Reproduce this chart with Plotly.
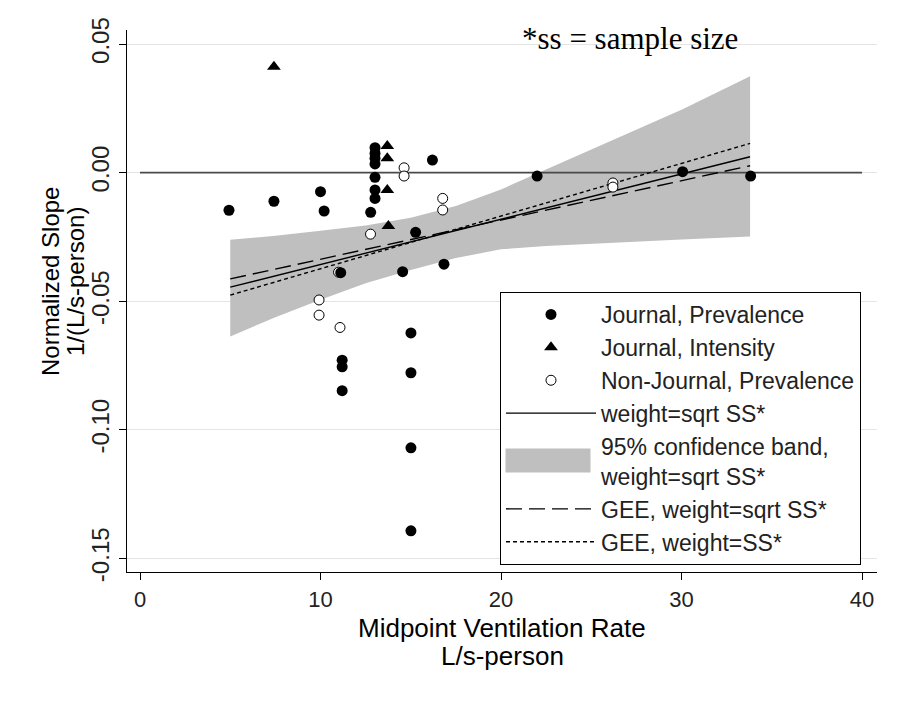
import plotly.graph_objects as go

# ---------------- data ----------------
# Journal, Prevalence (filled circles)
jp_x = [4.93, 7.42, 10.0, 10.2, 12.78, 13.02, 13.02, 13.02, 13.02, 13.02, 13.02, 13.02,
        16.2, 15.27, 11.12, 14.55, 16.84, 15.01, 11.2, 11.2, 15.01, 11.2, 15.01, 15.01,
        22.0, 30.06, 33.83]
jp_y = [-0.0146, -0.0111, -0.0074, -0.0149, -0.0154, 0.0097, 0.0075, 0.0056, 0.0034,
        -0.0018, -0.0067, -0.0100, 0.0049, -0.0232, -0.0389, -0.0385, -0.0356, -0.0623,
        -0.0729, -0.0755, -0.0778, -0.0848, -0.1070, -0.1393, -0.0013, 0.0004, -0.0013]

# Journal, Intensity (filled triangles)
ji_x = [7.42, 13.7, 13.7, 13.7, 13.76]
ji_y = [0.0412, 0.0104, 0.0056, -0.0067, -0.0207]

# Non-Journal, Prevalence (hollow circles)
nj_x = [14.63, 14.63, 16.77, 16.77, 12.77, 9.92, 9.92, 11.08, 26.2, 26.2, 11.0]
nj_y = [0.0019, -0.0013, -0.0100, -0.0145, -0.0239, -0.0495, -0.0554, -0.0602,
        -0.0040, -0.0056, -0.0387]

# fitted lines
fit_x = [5.0, 33.8]
wls_sqrt_y = [-0.0445, 0.0062]
gee_sqrt_y = [-0.0413, 0.0027]
gee_ss_y = [-0.0476, 0.0114]

# 95% confidence band
band_x = [5.0, 7.5, 10.0, 12.5, 15.0, 17.5, 20.0, 22.5, 25.0, 27.5, 30.0, 33.8]
band_hi = [-0.0261, -0.0245, -0.0226, -0.0205, -0.0175, -0.0130, -0.0065, 0.0012,
           0.0090, 0.0165, 0.0245, 0.0375]
band_lo = [-0.0637, -0.0562, -0.0494, -0.0430, -0.0378, -0.0332, -0.0298, -0.0285,
           -0.0277, -0.0268, -0.0260, -0.0248]

# reference line
ref_x = [0, 40]
ref_y = [0, 0]

x_ticks = [0, 10, 20, 30, 40]
y_ticks = [0.05, 0.0, -0.05, -0.10, -0.15]
y_ticklabels = ["0.05", "0.00", "-0.05", "-0.10", "-0.15"]

x_title = ["Midpoint Ventilation Rate", "L/s-person"]
y_title = ["Normalized Slope", "1/(L/s-person)"]
note = "*ss = sample size"

FONT = "Liberation Sans, Arial, sans-serif"
BAND = "#bfbfbf"

fig = go.Figure()

fig.add_trace(go.Scatter(
    x=band_x + band_x[::-1], y=band_hi + band_lo[::-1],
    fill="toself", fillcolor=BAND, line=dict(width=0, color=BAND),
    mode="lines", showlegend=False, hoverinfo="skip"))
# legend entry for the band (swatch drawn as a grey box over the entry)
fig.add_trace(go.Scatter(
    x=[None], y=[None], mode="lines", line=dict(color="rgba(0,0,0,0)", width=1),
    name="95% confidence band,<br>weight=sqrt SS*", legendrank=5))

fig.add_trace(go.Scatter(
    x=ref_x, y=ref_y, mode="lines", line=dict(color="#4a4a4a", width=1.8),
    showlegend=False, hoverinfo="skip"))

fig.add_trace(go.Scatter(
    x=fit_x, y=wls_sqrt_y, mode="lines", line=dict(color="black", width=1.4),
    name="weight=sqrt SS*", legendrank=4))
fig.add_trace(go.Scatter(
    x=fit_x, y=gee_sqrt_y, mode="lines",
    line=dict(color="black", width=1.4, dash="16px,7px"),
    name="GEE, weight=sqrt SS*", legendrank=6))
fig.add_trace(go.Scatter(
    x=fit_x, y=gee_ss_y, mode="lines",
    line=dict(color="black", width=1.4, dash="4px,3px"),
    name="GEE, weight=SS*", legendrank=7))

fig.add_trace(go.Scatter(
    x=nj_x, y=nj_y, mode="markers",
    marker=dict(symbol="circle", size=10, color="white", line=dict(color="black", width=1)),
    name="Non-Journal, Prevalence", legendrank=3))
fig.add_trace(go.Scatter(
    x=ji_x, y=ji_y, mode="markers",
    marker=dict(symbol="triangle-up", size=12, color="black", line=dict(width=0)),
    name="Journal, Intensity", legendrank=2))
fig.add_trace(go.Scatter(
    x=jp_x, y=jp_y, mode="markers",
    marker=dict(symbol="circle", size=11, color="black", line=dict(width=0)),
    name="Journal, Prevalence", legendrank=1))

# page body has an 8px margin, so the figure is laid out 8px up/left of the target
W, H = 886, 685
ml, mr, mt, mb = 119, 17, 22, 121
pw, ph = W - ml - mr, H - mt - mb


def px(xp):
    return (xp - ml) / pw


def py(yp):
    return (H - mb - yp) / ph


annots = [
    dict(text=note, x=px(622), y=py(30), xanchor="center", yanchor="middle",
         font=dict(family="Liberation Serif, Times New Roman, serif", size=31, color="black")),
    dict(text=x_title[0], x=px(494), y=py(620), xanchor="center", yanchor="middle",
         font=dict(size=26, color="black")),
    dict(text=x_title[1], x=px(494), y=py(648), xanchor="center", yanchor="middle",
         font=dict(size=26, color="black")),
    dict(text=y_title[0], x=px(42), y=py(274), xanchor="center", yanchor="middle",
         textangle=-90, font=dict(size=24, color="black")),
    dict(text=y_title[1], x=px(67), y=py(274), xanchor="center", yanchor="middle",
         textangle=-90, font=dict(size=24, color="black")),
    # grey swatch for the confidence-band legend entry
    dict(text=" ", x=px(540), y=py(452), xanchor="center", yanchor="middle",
         width=84, height=23, bgcolor=BAND, borderpad=0, font=dict(size=8)),
]
for a in annots:
    a.update(xref="paper", yref="paper", showarrow=False)

fig.update_layout(
    width=W, height=H,
    margin=dict(l=ml, r=mr, t=mt, b=mb, autoexpand=False),
    paper_bgcolor="white", plot_bgcolor="white",
    font=dict(family=FONT, color="black", size=22),
    showlegend=True,
    legend=dict(
        x=px(492), y=py(284), xanchor="left", yanchor="top",
        bgcolor="white", bordercolor="black", borderwidth=1,
        font=dict(family=FONT, size=23, color="#222222"),
        itemwidth=90, traceorder="normal", tracegroupgap=0,
    ),
    xaxis=dict(
        range=[-0.72, 40.83], tickvals=x_ticks, ticks="outside", ticklen=7,
        tickcolor="black", tickwidth=1, showline=True, linecolor="black",
        linewidth=1.3, showgrid=False, zeroline=False,
        tickfont=dict(size=22, color="#222222"),
    ),
    yaxis=dict(
        range=[-0.1553, 0.0555], tickvals=y_ticks, ticktext=y_ticklabels,
        tickangle=-90, ticks="outside", ticklen=7, tickcolor="black", tickwidth=1,
        showline=True, linecolor="black", linewidth=1.3,
        showgrid=True, gridcolor="#e4e4e4", gridwidth=1.2, zeroline=False,
        tickfont=dict(size=24, color="#222222"),
    ),
    annotations=annots,
)

fig.write_html("out.html")
